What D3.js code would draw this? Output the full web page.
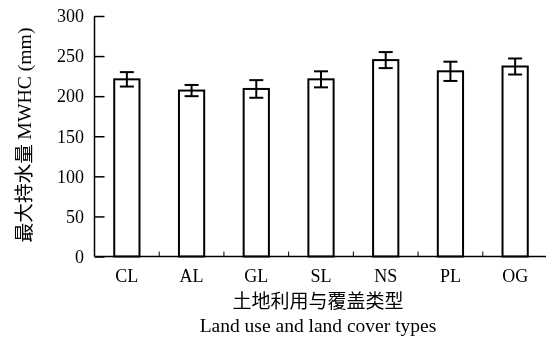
<!DOCTYPE html>
<html>
<head>
<meta charset="utf-8">
<script src="https://cdn.jsdelivr.net/npm/d3@7"></script>
<style>
  html, body { margin: 0; padding: 0; background: #fff; }
  svg { display: block; filter: grayscale(100%); }
  text { fill: #000; }
  .serif { font-family: "Liberation Serif", "Times New Roman", serif; }
  .cjk { font-family: "Noto Sans CJK SC", sans-serif; }
</style>
</head>
<body>
<script>
// Maximum water holding capacity by land use / land cover type
const categories = ["CL", "AL", "GL", "SL", "NS", "PL", "OG"];
const means = [221, 207, 209, 221, 245, 231, 237];
const errors = [9, 7, 11, 10, 10, 12, 10];
const yTicks = [0, 50, 100, 150, 200, 250, 300];

const W = 546, H = 338;
const svg = d3.select("body").append("svg").attr("width", W).attr("height", H);

const x = d3.scaleBand().domain(categories).range([94.5, 547.5]).paddingInner(0.61).paddingOuter(0.305);
const y = d3.scaleLinear().domain([0, 300]).range([256.5, 16]);

// boundaries between categories (small ticks on the baseline)
const step = x.step();
const bounds = d3.range(1, categories.length + 1).map(i => x.range()[0] + i * step);

const g = svg.append("g");

// bars
g.selectAll("rect.bar").data(categories).enter().append("rect")
  .attr("class", "bar")
  .attr("x", d => x(d))
  .attr("y", (d, i) => y(means[i]))
  .attr("width", x.bandwidth())
  .attr("height", (d, i) => y(0) - y(means[i]))
  .attr("fill", "#fff").attr("stroke", "#000").attr("stroke-width", 2);

// error bars
const cap = 7;
const eb = g.selectAll("g.err").data(categories).enter().append("g").attr("class", "err")
  .attr("stroke", "#000").attr("stroke-width", 2);
eb.append("line")
  .attr("x1", d => x(d) + x.bandwidth() / 2).attr("x2", d => x(d) + x.bandwidth() / 2)
  .attr("y1", (d, i) => y(means[i] + errors[i])).attr("y2", (d, i) => y(means[i] - errors[i]));
eb.append("line")
  .attr("x1", d => x(d) + x.bandwidth() / 2 - cap).attr("x2", d => x(d) + x.bandwidth() / 2 + cap)
  .attr("y1", (d, i) => y(means[i] + errors[i])).attr("y2", (d, i) => y(means[i] + errors[i]));
eb.append("line")
  .attr("x1", d => x(d) + x.bandwidth() / 2 - cap).attr("x2", d => x(d) + x.bandwidth() / 2 + cap)
  .attr("y1", (d, i) => y(means[i] - errors[i])).attr("y2", (d, i) => y(means[i] - errors[i]));

// y axis, ticks pointing inward
const yAxis = d3.axisRight(y).tickValues(yTicks).tickSize(10).tickFormat("");
const ya = svg.append("g").attr("transform", `translate(${x.range()[0]},0)`).call(yAxis);
ya.select(".domain").attr("d", `M0,${y(300)}V${y(0)}`);
ya.selectAll("line, path").attr("stroke", "#000").attr("stroke-width", 1.5);
svg.append("g").selectAll("text").data(yTicks).enter().append("text")
  .attr("class", "serif")
  .attr("x", 84).attr("y", d => y(d)).attr("dy", "0.35em")
  .attr("text-anchor", "end").attr("font-size", 18)
  .text(d => d);

// x axis baseline with boundary ticks
svg.append("line").attr("x1", x.range()[0]).attr("x2", x.range()[1])
  .attr("y1", y(0)).attr("y2", y(0)).attr("stroke", "#000").attr("stroke-width", 1.5);
svg.append("g").selectAll("line").data(bounds).enter().append("line")
  .attr("x1", d => d).attr("x2", d => d)
  .attr("y1", y(0)).attr("y2", y(0) - 5)
  .attr("stroke", "#000").attr("stroke-width", 1);

// category labels
svg.append("g").selectAll("text").data(categories).enter().append("text")
  .attr("class", "serif")
  .attr("x", d => x(d) + x.bandwidth() / 2).attr("y", 282)
  .attr("text-anchor", "middle").attr("font-size", 18)
  .text(d => d);

// axis titles
svg.append("text").attr("class", "cjk")
  .attr("x", 318).attr("y", 308)
  .attr("text-anchor", "middle").attr("font-size", 19)
  .text("土地利用与覆盖类型");
svg.append("text").attr("class", "serif")
  .attr("x", 318).attr("y", 332)
  .attr("text-anchor", "middle").attr("font-size", 19.5)
  .text("Land use and land cover types");

const yt = svg.append("text")
  .attr("transform", "translate(31,135) rotate(-90)")
  .attr("text-anchor", "middle").attr("font-size", 19.7);
yt.append("tspan").attr("class", "cjk").text("最大持水量 ");
yt.append("tspan").attr("class", "serif").text("MWHC (mm)");
</script>
</body>
</html>
